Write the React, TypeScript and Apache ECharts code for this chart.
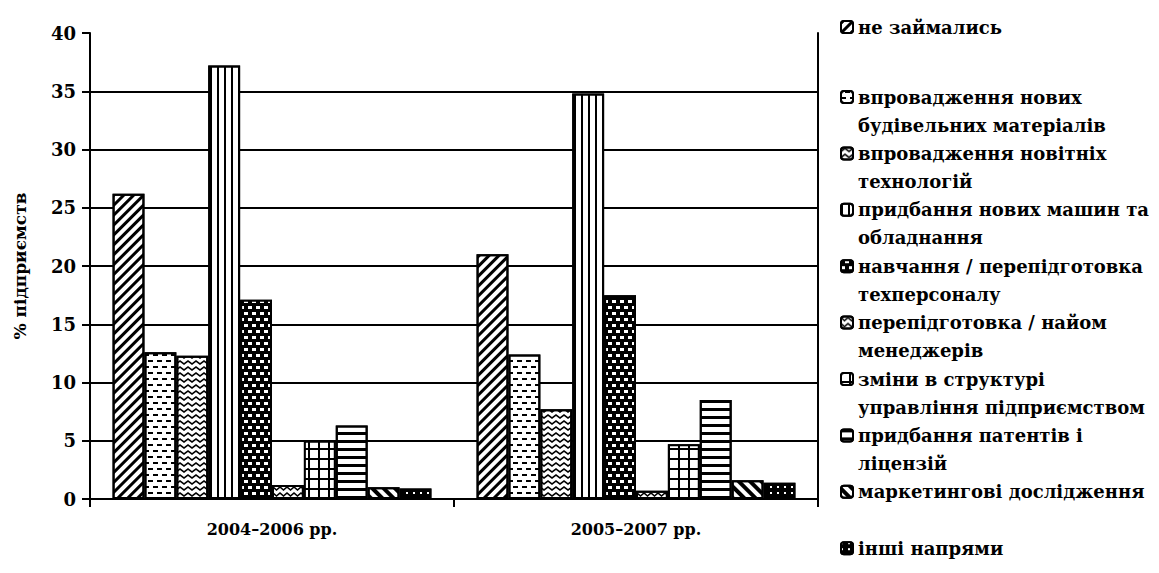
import React, { useEffect, useRef } from "react";
import * as echarts from "echarts";

const categories = ["2004–2006 рр.", "2005–2007 рр."];
const yTicks = [0, 5, 10, 15, 20, 25, 30, 35, 40];

const seriesNames = [
  "не займались",
  "впровадження нових будівельних матеріалів",
  "впровадження новітніх технологій",
  "придбання нових машин та обладнання",
  "навчання / перепідготовка техперсоналу",
  "перепідготовка / найом менеджерів",
  "зміни в структурі управління підприємством",
  "придбання патентів і ліцензій",
  "маркетингові дослідження",
  "інші напрями",
];

const legendLabels = [
  "не займались",
  "впровадження нових\nбудівельних матеріалів",
  "впровадження новітніх\nтехнологій",
  "придбання нових машин та\nобладнання",
  "навчання / перепідготовка\nтехперсоналу",
  "перепідготовка / найом\nменеджерів",
  "зміни в структурі\nуправління підприємством",
  "придбання патентів і\nліцензій",
  "маркетингові дослідження\n ",
  "інші напрями\n ",
];

const neZaimalys = [26.2, 21.0];
const budMaterialy = [12.6, 12.4];
const novitniTekhnolohii = [12.3, 7.7];
const mashyny = [37.2, 34.8];
const tekhpersonal = [17.1, 17.5];
const menedzhery = [1.2, 0.7];
const strukturaUpravlinnia = [5.0, 4.7];
const patenty = [6.3, 8.5];
const marketynh = [1.0, 1.6];
const inshi = [0.9, 1.4];

const seriesValues = [
  neZaimalys,
  budMaterialy,
  novitniTekhnolohii,
  mashyny,
  tekhpersonal,
  menedzhery,
  strukturaUpravlinnia,
  patenty,
  marketynh,
  inshi,
];

// fill styles (white bar + black pattern, or black bar + white pattern)
const fills: { color: string; decal: any }[] = [
  {
    color: "#fff",
    decal: { symbol: "rect", color: "#000", dashArrayX: [1, 0], dashArrayY: [3, 4], rotation: -Math.PI / 4 },
  },
  {
    color: "#fff",
    decal: { symbol: "rect", color: "#000", dashArrayX: [[5, 4], [0, 4, 5, 0]], dashArrayY: [2, 4] },
  },
  {
    color: "#fff",
    decal: {
      symbol: "path://M0,6L5,0L10,6L10,10L5,4L0,10Z",
      symbolKeepAspect: false,
      color: "#000",
      dashArrayX: [8, 0],
      dashArrayY: [5, 1],
    },
  },
  {
    color: "#fff",
    decal: { symbol: "rect", color: "#000", dashArrayX: [2, 5], dashArrayY: [1, 0] },
  },
  {
    color: "#000",
    decal: { symbol: "rect", color: "#fff", dashArrayX: [[4, 4], [0, 4, 4, 0]], dashArrayY: [3, 3] },
  },
  {
    color: "#fff",
    decal: {
      symbol: "path://M0,0L5,6L10,0L10,4L5,10L0,4Z",
      symbolKeepAspect: false,
      color: "#000",
      dashArrayX: [7, 0],
      dashArrayY: [5, 1],
    },
  },
  {
    color: "#000",
    decal: { symbol: "rect", color: "#fff", dashArrayX: [8, 1.5], dashArrayY: [8, 1.5] },
  },
  {
    color: "#fff",
    decal: { symbol: "rect", color: "#000", dashArrayX: [1, 0], dashArrayY: [2.5, 4.5] },
  },
  {
    color: "#fff",
    decal: { symbol: "rect", color: "#000", dashArrayX: [1, 0], dashArrayY: [4, 4], rotation: Math.PI / 4 },
  },
  {
    color: "#000",
    decal: { symbol: "rect", color: "#fff", dashArrayX: [2, 5], dashArrayY: [2, 4] },
  },
];

const FONT = "DejaVu Serif";

export default function App() {
  const ref = useRef<HTMLDivElement>(null);

  useEffect(() => {
    document.body.style.margin = "0";
    if (!ref.current) return;
    const chart = echarts.init(ref.current, undefined, { renderer: "svg" });

    const legendText = {
      fontFamily: FONT,
      fontWeight: "bold" as const,
      fontSize: 18,
      lineHeight: 28,
      color: "#000",
    };

    chart.setOption({
      animation: false,
      backgroundColor: "#fff",
      grid: { left: 90, right: 341, top: 33, bottom: 74, containLabel: false },
      legend: [
        {
          data: [seriesNames[0]],
          orient: "vertical",
          left: 840,
          top: 13,
          padding: 0,
          itemWidth: 12,
          itemHeight: 12,
          selectedMode: false,
          textStyle: legendText,
          formatter: (n: string) => legendLabels[seriesNames.indexOf(n)],
        },
        {
          data: seriesNames.slice(1),
          orient: "vertical",
          left: 840,
          top: 55,
          height: 600,
          padding: 0,
          itemWidth: 12,
          itemHeight: 12,
          itemGap: -27.6,
          selectedMode: false,
          textStyle: legendText,
          formatter: (n: string) => " \n" + legendLabels[seriesNames.indexOf(n)],
        },
      ],
      xAxis: {
        type: "category",
        data: categories,
        axisLine: { lineStyle: { color: "#000", width: 2 } },
        axisTick: { show: true, length: 8, lineStyle: { color: "#000", width: 2 } },
        axisLabel: {
          color: "#000",
          fontFamily: FONT,
          fontWeight: "bold",
          fontSize: 16,
          margin: 22,
        },
      },
      yAxis: [
        {
          type: "value",
          min: 0,
          max: 40,
          interval: 5,
          name: "% підприємств",
          nameLocation: "middle",
          nameGap: 62,
          nameTextStyle: { color: "#000", fontFamily: FONT, fontWeight: "bold", fontSize: 17 },
          axisLine: { show: true, lineStyle: { color: "#000", width: 2 } },
          axisTick: { show: true, length: 8, lineStyle: { color: "#000", width: 2 } },
          axisLabel: {
            color: "#000",
            fontFamily: FONT,
            fontWeight: "bold",
            fontSize: 18,
            margin: 14,
            formatter: (v: number) => (yTicks.includes(v) ? String(v) : ""),
          },
          splitLine: { show: true, showMaxLine: false, lineStyle: { color: "#000", width: 2 } },
        },
        {
          type: "value",
          min: 0,
          max: 40,
          interval: 5,
          position: "right",
          axisLine: { show: true, lineStyle: { color: "#000", width: 2 } },
          axisTick: { show: false },
          axisLabel: { show: false },
          splitLine: { show: false },
        },
      ],
      series: seriesNames.map((name, i) => ({
        name,
        type: "bar",
        yAxisIndex: 0,
        data: seriesValues[i],
        barGap: "0%",
        barCategoryGap: "12.4%",
        itemStyle: {
          color: fills[i].color,
          borderColor: "#000",
          borderWidth: 2,
          decal: fills[i].decal,
        },
      })),
    });

    return () => chart.dispose();
  }, []);

  return <div ref={ref} style={{ width: 1159, height: 573 }} />;
}
